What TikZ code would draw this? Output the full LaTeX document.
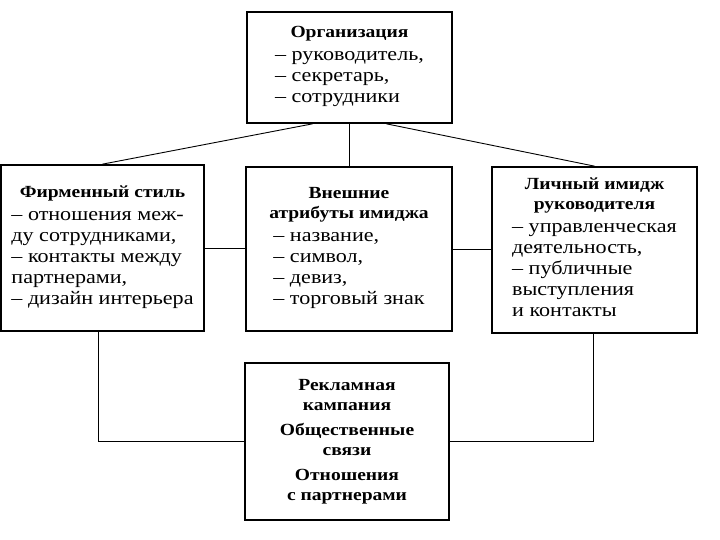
\documentclass[tikz,border=0pt]{standalone}
\usepackage{fontspec}
\setmainfont{Liberation Serif}[FakeStretch=1.15]
\begin{document}
\begin{tikzpicture}[x=1pt,y=-1pt,
  box/.style={draw=black, line width=1.7pt, rectangle, inner sep=0pt, align=center,
    font=\fontsize{17}{20}\selectfont},
  conn/.style={draw=black, line width=0.9pt}]
\useasboundingbox (0,0) rectangle (720,540);
\newcommand{\hd}[1]{{\bfseries #1}}
\newcommand{\itemsfont}{\fontsize{19.2}{21}\selectfont}
\node[box, minimum width=205, minimum height=111] (top) at (349.5,67.5)
  {\hd{Организация}\\[4pt]
   {\itemsfont\begin{tabular}{@{}l@{}}– руководитель,\\ – секретарь,\\ – сотрудники\end{tabular}}};
\node[box, minimum width=203, minimum height=166] (left) at (102.5,248)
  {\hd{Фирменный стиль}\\[4pt]
   {\itemsfont\begin{tabular}{@{}l@{}}– отношения меж-\\ ду сотрудниками,\\ – контакты между\\ партнерами,\\ – дизайн интерьера\end{tabular}}};
\node[box, minimum width=206, minimum height=164] (center) at (349,249)
  {\hd{Внешние}\\ \hd{атрибуты имиджа}\\[4pt]
   {\itemsfont\begin{tabular}{@{}l@{}}– название,\\ – символ,\\ – девиз,\\ – торговый знак\end{tabular}}};
\node[box, minimum width=205, minimum height=166] (right) at (594.5,250)
  {\hd{Личный имидж}\\ \hd{руководителя}\\[4pt]
   {\itemsfont\begin{tabular}{@{}l@{}}– управленческая\\ деятельность,\\ – публичные\\ выступления\\ и контакты\end{tabular}}};
\node[box, minimum width=204, minimum height=157] (bottom) at (347,441.5)
  {\hd{Рекламная}\\ \hd{кампания}\\[5pt] \hd{Общественные}\\ \hd{связи}\\[5pt] \hd{Отношения}\\ \hd{с партнерами}};
\draw[conn] ([xshift=-37pt]top.south) -- (left.north);
\draw[conn] (top.south) -- (top.south |- center.north);
\draw[conn] ([xshift=37pt]top.south) -- (right.north);
\draw[conn] (left.east) -- (left.east -| center.west);
\draw[conn] (center.east) -- (center.east -| right.west);
\draw[conn] ([xshift=-4pt]left.south) |- (bottom.west);
\draw[conn] ([xshift=-1pt]right.south) |- (bottom.east);
\end{tikzpicture}
\end{document}
